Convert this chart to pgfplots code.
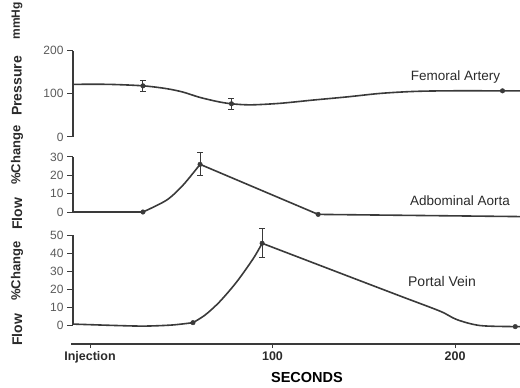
\documentclass[border=0pt]{standalone}
\usepackage{fontspec}
\setmainfont{Liberation Sans}
\usepackage{pgfplots}
\pgfplotsset{compat=1.18}
\definecolor{ln}{HTML}{3A3A3A}
\definecolor{tx}{HTML}{5A5A5A}
\definecolor{dk}{HTML}{2A2A2A}
\newcommand{\fs}[1]{\fontsize{#1bp}{#1bp}\selectfont}
\begin{document}
\begin{tikzpicture}[x=1bp,y=1bp]
\path[use as bounding box] (0,0) rectangle (520,387);
\pgfplotsset{
  panel/.style={scale only axis, width=447bp, xmin=-9.32, xmax=235.6, clip=false,
    axis x line=none, axis y line*=left,
    axis line style={ln, line width=1.2bp},
    tick align=outside, major tick length=6bp, tick style={ln, line width=1bp},
    yticklabel style={font=\fs{12}, text=tx},
    /pgf/number format/assume math mode=true,
    error bars/error bar style={line width=1bp, ln},
    error bars/error mark options={rotate=90, mark size=3bp, line width=1bp, ln}},
  crv/.style={ln, line width=1.6bp, mark=none},
  pts/.style={ln, only marks, mark=*, mark size=2.3bp, mark options={fill=ln, draw=ln}},
}
% Panel 1: Femoral artery pressure
\begin{axis}[panel, at={(73bp,250bp)}, anchor=south west, height=86.3bp,
  ymin=0, ymax=200, ytick={0,100,200}]
\addplot[crv, smooth, tension=0.5] coordinates {
 (-9.32,122) (10,122) (29,118.6) (42,112) (51,104) (60,92) (70,82) (77.5,77)
 (88,74.5) (104,78) (122,85.5) (141,93) (159,101) (177,105.5) (196,107) (226,107) (235.6,107)};
\addplot[pts, error bars/.cd, y dir=both, y explicit] coordinates {
 (29,118.6) +- (0,12.5) (77.5,77) +- (0,13)};
\addplot[pts] coordinates {(226,107)};
\end{axis}
% Panel 2: Abdominal aorta flow
\begin{axis}[panel, at={(73bp,175bp)}, anchor=south west, height=55bp,
  ymin=0, ymax=30, ytick={0,10,20,30}]
\addplot[crv] coordinates {(-9.32,0) (29,0)};
\addplot[crv, smooth, tension=0.5] coordinates {(29,0) (42,6.5) (51,14.7) (60.3,26)};
\addplot[crv] coordinates {(60.3,26) (125,-1.3) (235.6,-2.5)};
\addplot[pts, error bars/.cd, y dir=both, y explicit] coordinates {(60.3,26) +- (0,6.3)};
\addplot[pts] coordinates {(29,0) (125,-1.3)};
\end{axis}
% Panel 3: Portal vein flow
\begin{axis}[panel, at={(73bp,62bp)}, anchor=south west, height=90bp,
  ymin=0, ymax=50, ytick={0,10,20,30,40,50}]
\addplot[crv, smooth, tension=0.5] coordinates {(-9.32,0.5) (15,-0.3) (30,-0.6) (45,0) (56.4,1.3)};
\addplot[crv, smooth, tension=0.5] coordinates {(56.4,1.3) (63,5.5) (71,12.9) (80.4,24) (89.5,37) (94.3,45.4)};
\addplot[crv] coordinates {(94.3,45.4) (150,23.8)};
\addplot[crv, smooth, tension=0.5] coordinates {(150,23.8) (171.5,15.5) (192,7.6) (201,3) (213.7,-0.3) (233,-0.9) (235.6,-0.9)};
\addplot[pts, error bars/.cd, y dir=both, y explicit] coordinates {(94.3,45.4) +- (0,8)};
\addplot[pts] coordinates {(56.4,1.3) (233,-0.9)};
\end{axis}
% Bottom time axis
\begin{axis}[scale only axis, width=449bp, height=1bp, at={(71bp,43bp)}, anchor=south west,
  xmin=-10.41, xmax=235.6, ymin=0, ymax=1, axis y line=none, axis x line*=bottom,
  axis line style={ln, line width=1.4bp},
  xtick={0,100,200}, xticklabels={Injection,100,200},
  tick align=outside, major tick length=4bp, tick style={ln, line width=1bp},
  xticklabel style={font=\bfseries\fs{12.5}, text=dk}]
\addplot[draw=none] coordinates {(0,0)};
\end{axis}
% Texts
\node[font=\bfseries\fs{14.5}, text=black, inner sep=0pt] at (307,9) {SECONDS};
\node[font=\fs{13.5}, text=dk] at (455.5,309.5) {Femoral Artery};
\node[font=\fs{13.5}, text=dk] at (460,186) {Adbominal Aorta};
\node[font=\fs{14}, text=dk] at (442,106) {Portal Vein};
\node[rotate=90, font=\bfseries\fs{12}, text=dk, inner sep=0pt] at (17,366) {mmHg};
\node[rotate=90, font=\bfseries\fs{14}, text=dk] at (17,301) {Pressure};
\node[rotate=90, font=\bfseries\fs{13}, text=dk] at (17,232) {\%Change};
\node[rotate=90, font=\bfseries\fs{14}, text=dk] at (17,173) {Flow};
\node[rotate=90, font=\bfseries\fs{13}, text=dk] at (17,116) {\%Change};
\node[rotate=90, font=\bfseries\fs{14}, text=dk] at (17,57) {Flow};
\end{tikzpicture}
\end{document}
